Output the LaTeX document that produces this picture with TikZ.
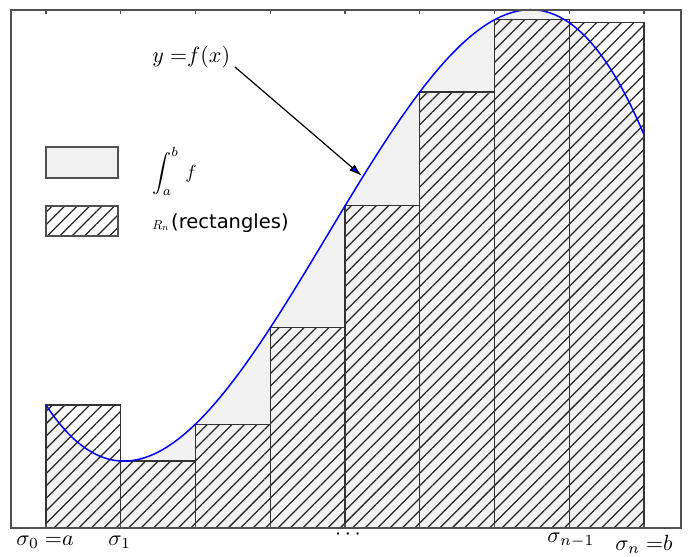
\documentclass[tikz,border=0pt]{standalone}
\usepackage{fontspec}
\newfontfamily\dejavu{DejaVu Sans}
\usetikzlibrary{patterns.meta,arrows.meta}
\definecolor{lightfill}{RGB}{242,242,242}
\definecolor{curveblue}{RGB}{0,0,255}
\definecolor{framegray}{RGB}{80,80,80}
\tikzset{
  mathlbl/.style={scale=2.2, inner sep=0pt},
  legmath/.style={scale=1.9, inner sep=0pt},
  legsmall/.style={scale=1.3, inner sep=0pt},
  legtext/.style={font=\dejavu\fontsize{19.5}{23}\selectfont, inner sep=0pt},
  hatchrect/.style={pattern={Lines[angle=45,distance=8.8pt,line width=1.25pt]}, pattern color=black!85},
  rectedge/.style={draw=black!80, line width=1.1pt},
  framestyle/.style={draw=framegray, line width=1.5pt},
  curvestyle/.style={draw=curveblue, line width=1.5pt},
}
\begin{document}
\begin{tikzpicture}[x=1pt,y=-1pt,
  declare function={hh(\t)=123-113.68*\t+63.29*\t^2-5.607*\t^3;}]
\useasboundingbox (0,0) rectangle (689,557);
% area under the curve
\fill[lightfill] (46,528) -- plot[domain=46:644,samples=200,variable=\x] (\x,{528-hh((\x-46)/74.75)}) -- (644,528) -- cycle;
% rectangles
\foreach \i in {0,...,7} {
  \pgfmathsetmacro\xl{46+74.75*\i}
  \pgfmathsetmacro\xr{46+74.75*(\i+1)}
  \pgfmathsetmacro\yt{528-hh(\i)}
  \path[hatchrect] (\xl,528) rectangle (\xr,\yt);
  \draw[rectedge] (\xl,528) rectangle (\xr,\yt);
}
% curve
\draw[curvestyle] plot[domain=46:644,samples=200,variable=\x] (\x,{528-hh((\x-46)/74.75)});
% frame
\draw[framestyle] (11,10) rectangle (681,528);
\foreach \i in {0,...,8} {
  \draw[framegray, line width=1.2pt] ({46+74.75*\i},10) -- ({46+74.75*\i},14);
  \draw[framegray, line width=1.2pt] ({46+74.75*\i},528) -- ({46+74.75*\i},524);
}
% label and arrow
\node[mathlbl, anchor=base west] (ylbl) at (152,62) {$y\;{=}f(x)$};
\coordinate (astart) at (235,67);
\coordinate (tip) at (362,176);
\draw[black, line width=1.2pt, -{Latex[length=13pt,width=8pt,fill=curveblue]}] (astart) -- (tip);
% legend
\draw[framegray, line width=1.5pt, fill=lightfill] (46,147) rectangle (118,178);
\path[hatchrect] (46,206) rectangle (118,236);
\draw[framegray, line width=1.5pt] (46,206) rectangle (118,236);
\node[legmath, anchor=base west] (intlbl) at (152,178) {$\displaystyle\int_a^b\,f$};
\node[legsmall, anchor=base west] (rlbl) at (152,229) {$R_n$};
\node[legtext, anchor=base west] (rtext) at (171,228) {(rectangles)};
% axis labels
\node[mathlbl, anchor=base west] (s0) at (16,545) {$\sigma_0\;{=}a$};
\node[mathlbl, anchor=base west] (s1) at (108,545) {$\sigma_1$};
\node[mathlbl] (sdots) at (348,535) {$\cdots$};
\node[mathlbl, anchor=base west] (snm) at (547,542) {$\sigma_{n-1}$};
\node[mathlbl, anchor=base west] (sn) at (615,550) {$\sigma_n\;{=}b$};
\end{tikzpicture}
\end{document}
